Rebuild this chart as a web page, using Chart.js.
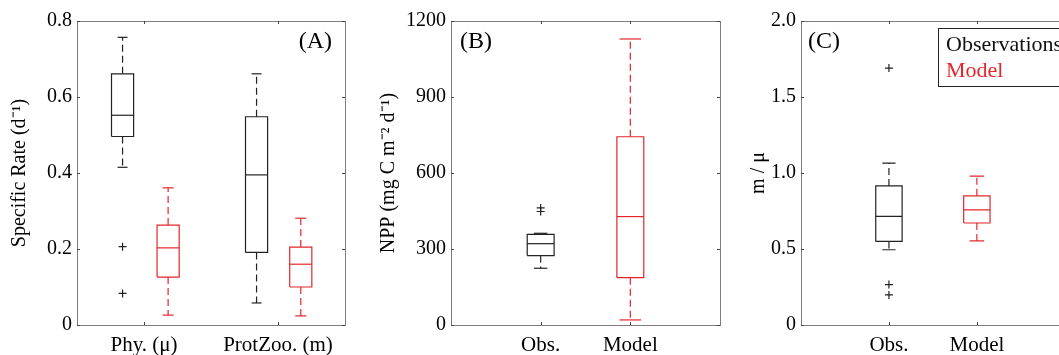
<!DOCTYPE html>
<html>
<head>
<meta charset="utf-8">
<script src="https://cdn.jsdelivr.net/npm/chart.js@4"></script>
<style>
  body { margin: 0; background: #fff; }
  #wrap { position: relative; width: 1059px; height: 355px; overflow: hidden; }
  canvas { position: absolute; top: 0; }
</style>
</head>
<body>
<div id="wrap">
  <canvas id="cA" width="360" height="355" style="left:0px"></canvas>
  <canvas id="cB" width="370" height="355" style="left:360px"></canvas>
  <canvas id="cC" width="340" height="355" style="left:730px"></canvas>
</div>
<script>
// box stats are [lower whisker, q1, median, q3, upper whisker]

// (A) specific rates
const catsA = ['Phy. (μ)', 'ProtZoo. (m)'];
const obsA = [[0.415, 0.496, 0.552, 0.661, 0.757], [0.058, 0.191, 0.395, 0.548, 0.661]];
const modA = [[0.026, 0.126, 0.203, 0.263, 0.361], [0.024, 0.100, 0.160, 0.205, 0.281]];
const outObsA = [[0.206, 0.083], []];
const ticksA = [0, 0.2, 0.4, 0.6, 0.8];

// (B) NPP
const catsB = ['Obs.', 'Model'];
const boxesB = [[224, 274, 321, 358, 362], [20, 187, 428, 743, 1129]];
const outB = [[462, 448], []];
const ticksB = [0, 300, 600, 900, 1200];

// (C) m / mu
const catsC = ['Obs.', 'Model'];
const boxesC = [[0.495, 0.55, 0.715, 0.915, 1.065], [0.554, 0.671, 0.757, 0.85, 0.979]];
const outC = [[1.69, 0.266, 0.198], []];
const ticksC = [0, 0.5, 1, 1.5, 2];
const legendC = ['Observations', 'Model'];

const BLACK = '#222222';
const RED = '#e2262b';
const SERIF = "'Liberation Serif', 'Times New Roman', serif";

function boxSets(s, x, w, color, cap) {
  const [lo, q1, med, q3, hi] = s;
  const h = w / 2, c = w * cap / 2;
  const seg = (pts, dash) => ({
    data: pts, borderColor: color, borderWidth: 1.2, borderDash: dash || [],
    showLine: true, pointRadius: 0, fill: false
  });
  return [
    seg([{x: x - h, y: q1}, {x: x + h, y: q1}, {x: x + h, y: q3}, {x: x - h, y: q3}, {x: x - h, y: q1}]),
    seg([{x: x - h, y: med}, {x: x + h, y: med}]),
    seg([{x: x, y: q3}, {x: x, y: hi}], [7, 4]),
    seg([{x: x, y: q1}, {x: x, y: lo}], [7, 4]),
    seg([{x: x - c, y: hi}, {x: x + c, y: hi}]),
    seg([{x: x - c, y: lo}, {x: x + c, y: lo}])
  ];
}

function outlierSet(vals, x, color) {
  return {
    data: vals.map(v => ({x: x, y: v})), showLine: false,
    pointStyle: 'cross', pointRadius: 4, borderColor: color, borderWidth: 1.2
  };
}

// frame, inward ticks, panel letter and legend
const framePlugin = {
  id: 'frame',
  afterDraw(chart, args, opts) {
    const {ctx, chartArea: a, scales} = chart;
    ctx.save();
    ctx.strokeStyle = '#7d7d7d';
    ctx.lineWidth = 1;
    ctx.strokeRect(a.left + 0.5, a.top + 0.5, a.right - a.left, a.bottom - a.top);
    ctx.strokeStyle = '#444';
    ctx.beginPath();
    scales.y.ticks.forEach(t => {
      const py = Math.round(scales.y.getPixelForValue(t.value)) + 0.5;
      ctx.moveTo(a.left, py); ctx.lineTo(a.left + 3, py);
      ctx.moveTo(a.right, py); ctx.lineTo(a.right - 3, py);
    });
    scales.x.ticks.forEach(t => {
      const px = Math.round(scales.x.getPixelForValue(t.value)) + 0.5;
      ctx.moveTo(px, a.bottom); ctx.lineTo(px, a.bottom - 3);
      ctx.moveTo(px, a.top); ctx.lineTo(px, a.top + 3);
    });
    ctx.stroke();

    ctx.fillStyle = '#000';
    ctx.font = '24px ' + SERIF;
    ctx.textBaseline = 'middle';
    if (opts.labelAlign === 'right') {
      ctx.textAlign = 'right';
      ctx.fillText(opts.label, a.right - 13, a.top + 21);
    } else {
      ctx.textAlign = 'left';
      ctx.fillText(opts.label, a.left + opts.labelInset, a.top + 21);
    }

    if (opts.legend) {
      const lx = a.left + 137, ly = a.top + 7;
      ctx.strokeStyle = '#222';
      ctx.strokeRect(lx + 0.5, ly + 0.5, a.right - lx + 20, 58);
      ctx.font = '22px ' + SERIF;
      ctx.textAlign = 'left';
      ctx.fillStyle = '#111';
      ctx.fillText(opts.legend[0], lx + 8, ly + 17);
      ctx.fillStyle = RED;
      ctx.fillText(opts.legend[1], lx + 8, ly + 43);
    }
    ctx.restore();
  }
};

function panel(id, o) {
  new Chart(document.getElementById(id), {
    type: 'scatter',
    data: {datasets: o.datasets},
    options: {
      responsive: false,
      animation: false,
      layout: {padding: {left: 0, right: o.padRight, top: 21, bottom: 0}},
      plugins: {
        legend: {display: false},
        tooltip: {enabled: false},
        frame: {label: o.label, labelAlign: o.labelAlign, labelInset: o.labelInset, legend: o.legend}
      },
      scales: {
        x: {
          type: 'linear', min: o.xmin, max: o.xmax,
          afterBuildTicks: s => { s.ticks = o.cats.map((c, i) => ({value: i + 1})); },
          afterFit: s => { s.height = 30; },
          ticks: {
            callback: v => o.cats[v - 1], color: '#000', padding: 8,
            font: {family: SERIF, size: 21}, maxRotation: 0, autoSkip: false
          },
          grid: {display: false, drawTicks: false, tickLength: 0}, border: {display: false}
        },
        y: {
          min: o.ymin, max: o.ymax,
          afterBuildTicks: s => { s.ticks = o.ticks.map(v => ({value: v})); },
          afterFit: s => { s.width = o.axisW; },
          ticks: {callback: o.fmt, color: '#000', padding: 5, font: {family: SERIF, size: 20}},
          title: {
            display: true, text: o.title, color: '#000',
            font: {family: SERIF, size: 20}, padding: {top: o.titlePad, bottom: 0}
          },
          grid: {display: false, drawTicks: false, tickLength: 0}, border: {display: false}
        }
      }
    },
    plugins: [framePlugin]
  });
}

const oneDec = v => (v === 0 ? '0' : v.toFixed(1));

// (A)
const posA = [[0.84, 1.18], [1.84, 2.17]];
let dsA = [];
obsA.forEach((s, i) => {
  dsA = dsA.concat(boxSets(s, posA[i][0], 0.165, BLACK, 0.45));
  dsA.push(outlierSet(outObsA[i], posA[i][0], BLACK));
});
modA.forEach((s, i) => { dsA = dsA.concat(boxSets(s, posA[i][1], 0.165, RED, 0.5)); });
panel('cA', {
  datasets: dsA, cats: catsA, xmin: 0.5, xmax: 2.5, ymin: 0, ymax: 0.8, ticks: ticksA,
  fmt: oneDec, title: 'Specific Rate (d⁻¹)', titlePad: 8, axisW: 77, padRight: 15,
  label: '(A)', labelAlign: 'right'
});

// (B)
let dsB = [];
dsB = dsB.concat(boxSets(boxesB[0], 1, 0.3, BLACK, 0.5));
dsB.push(outlierSet(outB[0], 1, BLACK));
dsB = dsB.concat(boxSets(boxesB[1], 2, 0.3, RED, 0.8));
panel('cB', {
  datasets: dsB, cats: catsB, xmin: 0, xmax: 3, ymin: 0, ymax: 1200, ticks: ticksB,
  fmt: v => String(v), title: 'NPP (mg C m⁻² d⁻¹)', titlePad: 17, axisW: 91, padRight: 10,
  label: '(B)', labelAlign: 'left', labelInset: 9
});

// (C)
let dsC = [];
dsC = dsC.concat(boxSets(boxesC[0], 1, 0.3, BLACK, 0.5));
dsC.push(outlierSet(outC[0], 1, BLACK));
dsC = dsC.concat(boxSets(boxesC[1], 2, 0.3, RED, 0.55));
panel('cC', {
  datasets: dsC, cats: catsC, xmin: 0, xmax: 3, ymin: 0, ymax: 2, ticks: ticksC,
  fmt: oneDec, title: 'm / μ', titlePad: 17, axisW: 71, padRight: 3,
  label: '(C)', labelAlign: 'left', labelInset: 7, legend: legendC
});
</script>
</body>
</html>
